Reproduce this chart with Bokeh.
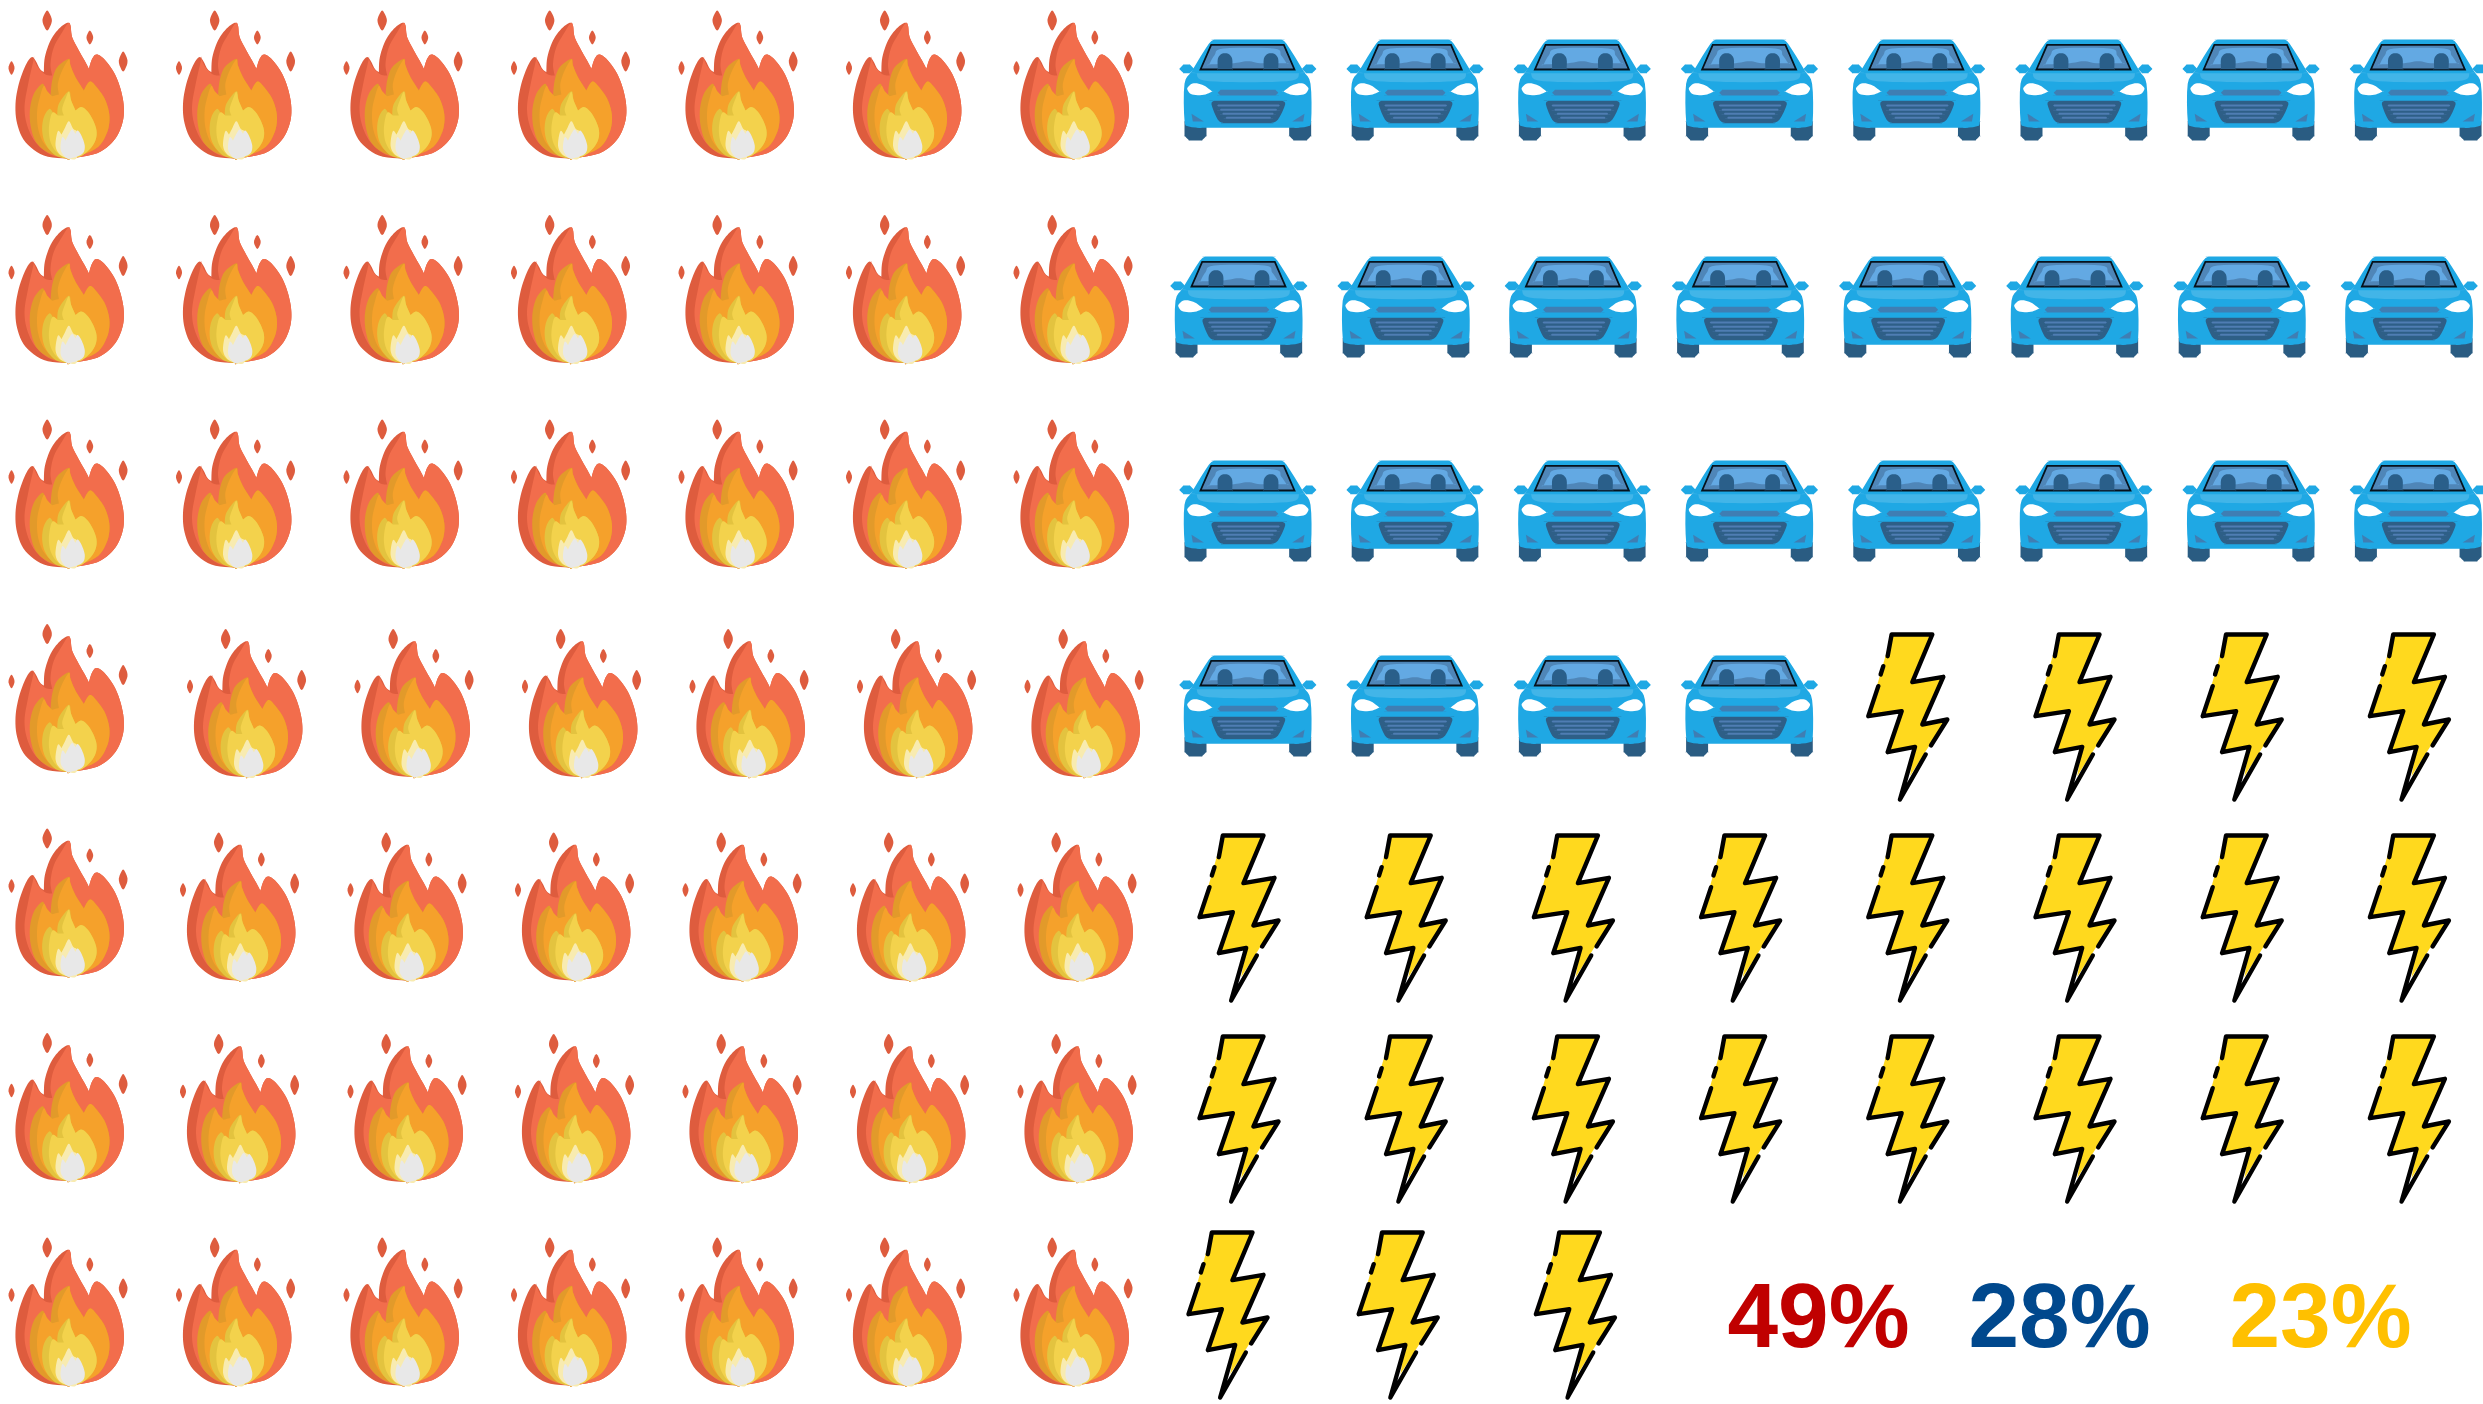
from bokeh.plotting import figure
from bokeh.embed import file_html
from bokeh.resources import INLINE
from bokeh.models import ColumnDataSource, Range1d
from bokeh.core.properties import value

# ---- data ----
categories = ["Fire", "Transport", "Power"]
shares = [49, 28, 23]
share_labels = ["49%", "28%", "23%"]
share_colors = ["#C00000", "#00488D", "#FFC000"]

# ---- layout of the pictogram ----
W, H = 2483, 1404
FLAME_ROWS, WARM_ROWS, COOL_COLS = 7, 7, 8
FLAME_DX, FLAME_DY = 167.5, 204.5
COOL_DX = 167.2


def flame_nudge(row, col):
    if col == 0:
        return 0, 0
    return {3: (11, 5), 4: (4, 4), 5: (4, 1), 6: (0, 0)}.get(row, (0, 0))


CAR_ROW_DY = {0: 0, 1: 217, 2: 421, 3: 616}
CAR_ROW_DX = {1: -9}
BOLT_ROW_DY = {3: -201, 4: 0, 5: 201, 6: 397}
BOLT_LAST = {0: -11, 1: -8, 2: 2}
LABEL_X = [1818, 2059, 2320]
LABEL_BASE = 1315


# ---- icon outlines, in 3x pixels of a single icon ----
def smooth(pts, n=6):
    pp = []
    for q in pts:
        pp.append(q[:2])
        if len(q) == 3:
            pp.append(q[:2])
    out = []
    m = len(pp)
    for i in range(m):
        p0, p1, p2, p3 = pp[i - 1], pp[i], pp[(i + 1) % m], pp[(i + 2) % m]
        for k in range(n):
            t = k / n
            out.append(tuple(
                0.5 * (2 * p1[a] + (p2[a] - p0[a]) * t
                       + (2 * p0[a] - 5 * p1[a] + 4 * p2[a] - p3[a]) * t * t
                       + (3 * p1[a] - p0[a] - 3 * p2[a] + p3[a]) * t ** 3)
                for a in (0, 1)))
    return out


def drop(cx, top, bottom, w):
    h = bottom - top
    return smooth([(cx, top), (cx + w * 0.36, top + h * 0.25), (cx + w / 2, top + h * 0.5),
                   (cx + w * 0.36, top + h * 0.75), (cx, bottom), (cx - w * 0.36, top + h * 0.75),
                   (cx - w / 2, top + h * 0.5), (cx - w * 0.36, top + h * 0.25)], 4)


def rrect(x0, y0, x1, y1, r):
    return smooth([(x0 + r, y0, 1), (x1 - r, y0, 1), (x1, y0 + r, 1), (x1, y1 - r, 1),
                   (x1 - r, y1, 1), (x0 + r, y1, 1), (x0, y1 - r, 1), (x0, y0 + r, 1)], 4)


def seat(x0, x1):
    return smooth([(x0 + 12, 100), (x1 - 12, 100), (x1, 115), (x1, 146, 1), (x0, 146, 1), (x0, 115)], 4)


F_RIGHT = [(210, 75), (215, 110), (235, 150), (255, 185), (265, 205, 1), (275, 175), (288, 162),
           (310, 175), (340, 215), (360, 265), (370, 320), (365, 370), (340, 420), (290, 458), (205, 475, 1)]
F_OUT = [(130, 465), (75, 425), (50, 370), (45, 310), (55, 250), (75, 195), (93, 170), (105, 180),
         (118, 205), (130, 215, 1), (133, 170), (150, 120), (175, 85), (200, 67)] + F_RIGHT
F_MAIN = [(150, 462), (105, 425), (80, 375), (72, 320), (82, 255), (100, 175, 1), (112, 200), (135, 222),
          (155, 225, 1), (150, 190), (160, 140), (185, 95), (203, 68)] + F_RIGHT
O_RIGHT = [(210, 195), (225, 230), (250, 270, 1), (268, 243), (290, 262), (315, 300), (327, 350),
           (318, 400), (285, 445), (205, 475, 1)]
O_OUT = [(150, 460), (110, 430), (92, 385), (88, 330), (100, 280), (125, 250), (135, 265), (150, 285, 1),
         (155, 240), (170, 200), (205, 175)] + O_RIGHT
O_MAIN = [(160, 458), (128, 425), (112, 380), (110, 330), (118, 290), (130, 256), (140, 272), (155, 287, 1),
          (175, 282, 1), (172, 250), (185, 210), (205, 177)] + O_RIGHT
Y_RIGHT = [(212, 300), (225, 330, 1), (245, 320), (270, 345), (288, 390), (280, 430), (245, 465), (205, 475, 1)]
Y_OUT = [(165, 465), (135, 430), (125, 390), (130, 350), (147, 325), (160, 340), (170, 345, 1), (175, 310),
         (205, 272)] + Y_RIGHT
Y_MAIN = [(175, 462), (152, 430), (145, 390), (150, 350), (158, 335), (172, 345, 1), (190, 345, 1), (185, 325),
          (195, 295), (205, 274)] + Y_RIGHT
PALE = [(205, 475, 1), (178, 462), (165, 435), (172, 392), (183, 402, 1), (192, 385), (205, 362), (218, 385),
        (232, 400), (230, 470)]
WHITE = [(205, 475, 1), (192, 468), (180, 445), (185, 410), (195, 420, 1), (205, 400), (215, 387), (225, 400, 1),
         (232, 390), (245, 410), (253, 440), (243, 462)]

FLAME = [
    ("#DE5C3E", [smooth(F_OUT), drop(140, 30, 90, 28), drop(268, 90, 132, 20),
                 drop(368, 153, 213, 26), drop(33, 182, 223, 18)], None),
    ("#F26D4C", [smooth(F_MAIN)], None),
    ("#E29A2A", [smooth(O_OUT)], None),
    ("#F5A12B", [smooth(O_MAIN)], None),
    ("#E3C33F", [smooth(Y_OUT)], None),
    ("#F3D24C", [smooth(Y_MAIN)], None),
    ("#F8EBB0", [smooth(PALE)], None),
    ("#E8E8E8", [smooth(WHITE)], None),
]

CAR_BODY = [(165, 57, 1), (360, 57, 1), (378, 70), (428, 150), (450, 190), (452, 300), (440, 318), (400, 322, 1),
            (125, 322, 1), (85, 318), (72, 300), (72, 190), (95, 150), (145, 70)]
CAR = [
    ("#2A5C82", [rrect(72, 290, 138, 360, 14), rrect(386, 290, 452, 360, 14)], None),
    ("#1FA8E4", [smooth(CAR_BODY, 4), rrect(57, 132, 100, 158, 12), rrect(425, 132, 467, 158, 12)], None),
    ("#42B5E8", [smooth([(108, 158, 1), (416, 158, 1), (395, 180), (262, 185), (130, 180)])], None),
    ("#4F86B8", [[(152, 73), (370, 73), (402, 147), (120, 147)]], ("#06121C", 1.8)),
    ("#63A9E3", [smooth([(188, 84), (340, 84), (362, 105), (378, 128, 1), (300, 128), (262, 122), (220, 128),
                         (146, 132, 1), (162, 104)])], None),
    ("#2A5F8A", [seat(172, 215), seat(310, 353)], None),
    ("#FFFFFF", [smooth([(82, 200), (100, 188), (130, 195), (155, 213, 1), (130, 223), (95, 222), (82, 210)]),
                 smooth([(442, 200), (424, 188), (394, 195), (369, 213, 1), (394, 223), (429, 222), (442, 210)])], None),
    ("#3F7EB3", [rrect(172, 208, 353, 225, 8), [(93, 280), (130, 303), (97, 303)], [(432, 280), (395, 303), (428, 303)]], None),
    ("#2E5F87", [smooth([(160, 241, 1), (366, 241, 1), (374, 252), (352, 298), (330, 308, 1), (190, 308, 1), (172, 298),
                         (153, 252)], 4)], None),
    ("#4F7DB3", [rrect(170, 252, 358, 258, 3), rrect(178, 265, 350, 271, 3), rrect(185, 277, 340, 283, 3),
                 rrect(195, 289, 332, 295, 3)], None),
]

BOLT_STROKES = [
    [(118, 110), (130, 45), (252, 45), (192, 188), (285, 172), (222, 315), (297, 300), (248, 378)],
    [(232, 405), (155, 540), (200, 382), (118, 398), (160, 275), (60, 290), (90, 200)],
    [(97, 165), (105, 140)],
]
BOLT_FILL = [(130, 45), (252, 45), (192, 188), (285, 172), (222, 315), (297, 300), (245, 375), (185, 470), (200, 382),
             (118, 398), (160, 275), (60, 290)]

# ---- icon placement, derived from the shares ----
ICON_ORIGIN = {"flame": (0, 0), "car": (1160, 20), "bolt": (1179, 820)}
flame_places = []
for i in range(shares[0]):
    col, row = i // FLAME_ROWS, i % FLAME_ROWS
    dx, dy = flame_nudge(row, col)
    flame_places.append((col * FLAME_DX + dx, row * FLAME_DY + dy))

car_places, bolt_places = [], []
n_cool = shares[1] + shares[2]
for i in range(n_cool):
    row, col = i // COOL_COLS, i % COOL_COLS
    if i < shares[1]:
        car_places.append((ICON_ORIGIN["car"][0] + col * COOL_DX + CAR_ROW_DX.get(row, 0),
                           ICON_ORIGIN["car"][1] + CAR_ROW_DY[row]))
    else:
        nudge = BOLT_LAST.get(col, 0) if row == 6 else 0
        bolt_places.append((ICON_ORIGIN["bolt"][0] + col * COOL_DX + nudge,
                            ICON_ORIGIN["bolt"][1] + BOLT_ROW_DY[row]))

p = figure(width=W, height=H, x_range=Range1d(0, W), y_range=Range1d(H, 0),
           toolbar_location=None, output_backend="svg", min_border=0, outline_line_color=None,
           background_fill_color="white", border_fill_color="white")
p.xaxis.visible = False
p.yaxis.visible = False
p.xgrid.visible = False
p.ygrid.visible = False


def stamp(layers, places):
    for color, polys, stroke in layers:
        xs, ys = [], []
        for ox, oy in places:
            for poly in polys:
                xs.append([ox + a / 3 for a, _ in poly])
                ys.append([oy + b / 3 for _, b in poly])
        kw = dict(line_color=None)
        if stroke:
            kw = dict(line_color=stroke[0], line_width=stroke[1], line_join="miter")
        p.patches(xs, ys, fill_color=color, **kw)


stamp(FLAME, flame_places)
stamp(CAR, car_places)
stamp([("#FFD91E", [BOLT_FILL], None)], bolt_places)
sx, sy = [], []
for ox, oy in bolt_places:
    for s in BOLT_STROKES:
        sx.append([ox + a / 3 for a, _ in s])
        sy.append([oy + b / 3 for _, b in s])
p.multi_line(sx, sy, line_color="black", line_width=4.4, line_join="round", line_cap="round")

src = ColumnDataSource(dict(x=LABEL_X, y=[LABEL_BASE] * 3, t=share_labels, c=share_colors))
p.text("x", "y", text="t", text_color="c", source=src, text_font=value("Liberation Sans"),
       text_font_style="bold", text_font_size="91px", text_align="center", text_baseline="alphabetic")

open("out.html", "w").write(file_html(p, INLINE))
